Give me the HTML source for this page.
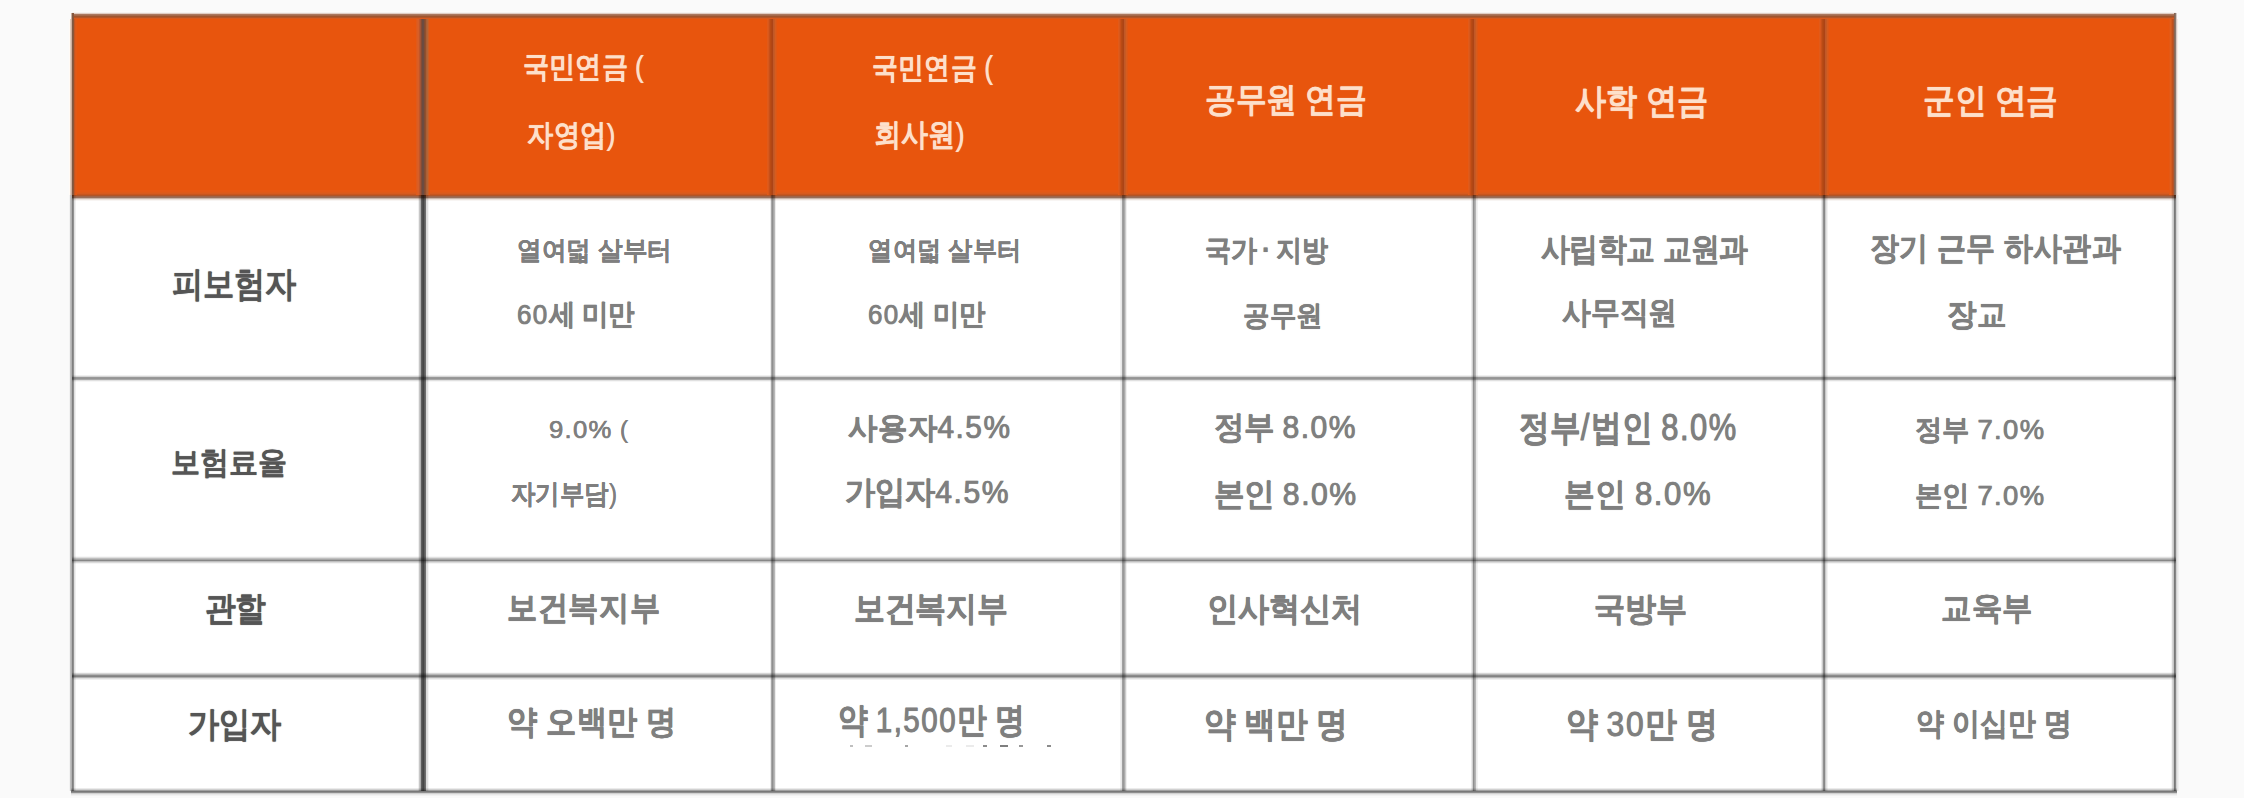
<!DOCTYPE html>
<html><head><meta charset="utf-8"><style>
html,body{margin:0;padding:0}
body{width:2244px;height:798px;background:#fafafa;position:relative;overflow:hidden;font-family:"Liberation Sans",sans-serif}
i,b{position:absolute;display:block}
.t{font-size:40px;line-height:1;white-space:nowrap;transform-origin:0 0;text-shadow:0 0 1px currentColor}
.p{font-weight:normal;-webkit-text-stroke:0.3px currentColor!important}
.d{font-weight:normal;letter-spacing:0.05em;-webkit-text-stroke:0.9px currentColor!important}
</style></head><body>
<i style="left:72px;top:196px;width:2104px;height:596px;background:#fff"></i>
<i style="left:72px;top:17px;width:2104px;height:179px;background:rgb(232,85,13)"></i>
<i style="left:72px;top:11px;width:2104px;height:1px;background:rgb(253,251,249)"></i>
<i style="left:72px;top:12px;width:2104px;height:1px;background:rgb(245,242,240)"></i>
<i style="left:72px;top:13px;width:2104px;height:1px;background:rgb(225,205,195)"></i>
<i style="left:72px;top:14px;width:2104px;height:1px;background:rgb(170,120,95)"></i>
<i style="left:72px;top:15px;width:2104px;height:1px;background:rgb(165,105,75)"></i>
<i style="left:72px;top:16px;width:2104px;height:1px;background:rgb(160,85,45)"></i>
<i style="left:72px;top:17px;width:2104px;height:1px;background:rgb(180,85,40)"></i>
<i style="left:72px;top:18px;width:2104px;height:1px;background:rgb(215,90,30)"></i>
<i style="left:72px;top:190px;width:2104px;height:1px;background:rgb(230,88,20)"></i>
<i style="left:72px;top:191px;width:2104px;height:1px;background:rgb(228,88,22)"></i>
<i style="left:72px;top:192px;width:2104px;height:1px;background:rgb(222,90,25)"></i>
<i style="left:72px;top:193px;width:2104px;height:1px;background:rgb(215,90,30)"></i>
<i style="left:72px;top:194px;width:2104px;height:1px;background:rgb(200,85,30)"></i>
<i style="left:72px;top:195px;width:2104px;height:1px;background:rgb(175,85,40)"></i>
<i style="left:72px;top:196px;width:2104px;height:1px;background:rgb(160,100,75)"></i>
<i style="left:72px;top:197px;width:2104px;height:1px;background:rgb(150,110,90)"></i>
<i style="left:72px;top:198px;width:2104px;height:1px;background:rgb(200,180,170)"></i>
<i style="left:72px;top:199px;width:2104px;height:1px;background:rgb(235,225,220)"></i>
<i style="left:72px;top:200px;width:2104px;height:1px;background:rgb(248,245,243)"></i>
<i style="left:69px;top:19px;width:1px;height:176px;background:rgb(255,250,245)"></i>
<i style="left:70px;top:19px;width:1px;height:176px;background:rgb(225,205,190)"></i>
<i style="left:71px;top:19px;width:1px;height:176px;background:rgb(205,175,160)"></i>
<i style="left:72px;top:19px;width:1px;height:176px;background:rgb(125,90,70)"></i>
<i style="left:73px;top:19px;width:1px;height:176px;background:rgb(140,85,55)"></i>
<i style="left:74px;top:19px;width:1px;height:176px;background:rgb(195,85,35)"></i>
<i style="left:75px;top:19px;width:1px;height:176px;background:rgb(220,88,25)"></i>
<i style="left:76px;top:19px;width:1px;height:176px;background:rgb(228,88,20)"></i>
<i style="left:2169px;top:19px;width:1px;height:176px;background:rgb(228,88,20)"></i>
<i style="left:2170px;top:19px;width:1px;height:176px;background:rgb(222,95,30)"></i>
<i style="left:2171px;top:19px;width:1px;height:176px;background:rgb(210,90,30)"></i>
<i style="left:2172px;top:19px;width:1px;height:176px;background:rgb(195,80,25)"></i>
<i style="left:2173px;top:19px;width:1px;height:176px;background:rgb(175,85,45)"></i>
<i style="left:2174px;top:19px;width:1px;height:176px;background:rgb(140,100,80)"></i>
<i style="left:2175px;top:19px;width:1px;height:176px;background:rgb(135,120,110)"></i>
<i style="left:2176px;top:19px;width:1px;height:176px;background:rgb(215,200,195)"></i>
<i style="left:2177px;top:19px;width:1px;height:176px;background:rgb(245,235,230)"></i>
<i style="left:2178px;top:19px;width:1px;height:176px;background:rgb(252,250,245)"></i>
<i style="left:416px;top:19px;width:1px;height:176px;background:rgb(225,90,25)"></i>
<i style="left:417px;top:19px;width:1px;height:176px;background:rgb(220,92,35)"></i>
<i style="left:418px;top:19px;width:1px;height:176px;background:rgb(212,95,40)"></i>
<i style="left:419px;top:19px;width:1px;height:176px;background:rgb(195,85,40)"></i>
<i style="left:420px;top:19px;width:1px;height:176px;background:rgb(160,85,55)"></i>
<i style="left:421px;top:19px;width:1px;height:176px;background:rgb(130,75,55)"></i>
<i style="left:422px;top:19px;width:1px;height:176px;background:rgb(105,75,65)"></i>
<i style="left:423px;top:19px;width:1px;height:176px;background:rgb(108,75,65)"></i>
<i style="left:424px;top:19px;width:1px;height:176px;background:rgb(130,75,50)"></i>
<i style="left:425px;top:19px;width:1px;height:176px;background:rgb(145,80,45)"></i>
<i style="left:426px;top:19px;width:1px;height:176px;background:rgb(170,95,55)"></i>
<i style="left:427px;top:19px;width:1px;height:176px;background:rgb(180,100,55)"></i>
<i style="left:428px;top:19px;width:1px;height:176px;background:rgb(205,95,35)"></i>
<i style="left:429px;top:19px;width:1px;height:176px;background:rgb(225,85,20)"></i>
<i style="left:767px;top:19px;width:1px;height:176px;background:rgb(225,90,25)"></i>
<i style="left:768px;top:19px;width:1px;height:176px;background:rgb(215,88,28)"></i>
<i style="left:769px;top:19px;width:1px;height:176px;background:rgb(200,80,25)"></i>
<i style="left:770px;top:19px;width:1px;height:176px;background:rgb(185,75,20)"></i>
<i style="left:771px;top:19px;width:1px;height:176px;background:rgb(178,70,20)"></i>
<i style="left:772px;top:19px;width:1px;height:176px;background:rgb(172,68,22)"></i>
<i style="left:773px;top:19px;width:1px;height:176px;background:rgb(192,88,40)"></i>
<i style="left:774px;top:19px;width:1px;height:176px;background:rgb(200,90,35)"></i>
<i style="left:775px;top:19px;width:1px;height:176px;background:rgb(215,92,30)"></i>
<i style="left:776px;top:19px;width:1px;height:176px;background:rgb(222,88,22)"></i>
<i style="left:1118px;top:19px;width:1px;height:176px;background:rgb(225,90,25)"></i>
<i style="left:1119px;top:19px;width:1px;height:176px;background:rgb(215,88,28)"></i>
<i style="left:1120px;top:19px;width:1px;height:176px;background:rgb(200,80,25)"></i>
<i style="left:1121px;top:19px;width:1px;height:176px;background:rgb(185,75,20)"></i>
<i style="left:1122px;top:19px;width:1px;height:176px;background:rgb(178,70,20)"></i>
<i style="left:1123px;top:19px;width:1px;height:176px;background:rgb(172,68,22)"></i>
<i style="left:1124px;top:19px;width:1px;height:176px;background:rgb(192,88,40)"></i>
<i style="left:1125px;top:19px;width:1px;height:176px;background:rgb(200,90,35)"></i>
<i style="left:1126px;top:19px;width:1px;height:176px;background:rgb(215,92,30)"></i>
<i style="left:1127px;top:19px;width:1px;height:176px;background:rgb(222,88,22)"></i>
<i style="left:1468px;top:19px;width:1px;height:176px;background:rgb(225,90,25)"></i>
<i style="left:1469px;top:19px;width:1px;height:176px;background:rgb(215,88,28)"></i>
<i style="left:1470px;top:19px;width:1px;height:176px;background:rgb(200,80,25)"></i>
<i style="left:1471px;top:19px;width:1px;height:176px;background:rgb(185,75,20)"></i>
<i style="left:1472px;top:19px;width:1px;height:176px;background:rgb(178,70,20)"></i>
<i style="left:1473px;top:19px;width:1px;height:176px;background:rgb(172,68,22)"></i>
<i style="left:1474px;top:19px;width:1px;height:176px;background:rgb(192,88,40)"></i>
<i style="left:1475px;top:19px;width:1px;height:176px;background:rgb(200,90,35)"></i>
<i style="left:1476px;top:19px;width:1px;height:176px;background:rgb(215,92,30)"></i>
<i style="left:1477px;top:19px;width:1px;height:176px;background:rgb(222,88,22)"></i>
<i style="left:1819px;top:19px;width:1px;height:176px;background:rgb(225,90,25)"></i>
<i style="left:1820px;top:19px;width:1px;height:176px;background:rgb(215,88,28)"></i>
<i style="left:1821px;top:19px;width:1px;height:176px;background:rgb(200,80,25)"></i>
<i style="left:1822px;top:19px;width:1px;height:176px;background:rgb(185,75,20)"></i>
<i style="left:1823px;top:19px;width:1px;height:176px;background:rgb(178,70,20)"></i>
<i style="left:1824px;top:19px;width:1px;height:176px;background:rgb(172,68,22)"></i>
<i style="left:1825px;top:19px;width:1px;height:176px;background:rgb(192,88,40)"></i>
<i style="left:1826px;top:19px;width:1px;height:176px;background:rgb(200,90,35)"></i>
<i style="left:1827px;top:19px;width:1px;height:176px;background:rgb(215,92,30)"></i>
<i style="left:1828px;top:19px;width:1px;height:176px;background:rgb(222,88,22)"></i>
<i style="left:71px;top:13px;width:1px;height:6px;background:rgb(205,175,160)"></i>
<i style="left:72px;top:13px;width:1px;height:6px;background:rgb(125,90,70)"></i>
<i style="left:73px;top:13px;width:1px;height:6px;background:rgb(140,85,55)"></i>
<i style="left:2174px;top:13px;width:1px;height:6px;background:rgb(140,100,80)"></i>
<i style="left:2175px;top:13px;width:1px;height:6px;background:rgb(135,120,110)"></i>
<i style="left:2176px;top:13px;width:1px;height:6px;background:rgb(215,200,195)"></i>
<i style="left:69px;top:195px;width:1px;height:596px;background:rgba(0,0,0,0.03)"></i>
<i style="left:70px;top:195px;width:1px;height:596px;background:rgba(0,0,0,0.23)"></i>
<i style="left:71px;top:195px;width:1px;height:596px;background:rgba(0,0,0,0.29)"></i>
<i style="left:72px;top:195px;width:1px;height:596px;background:rgba(0,0,0,0.5)"></i>
<i style="left:73px;top:195px;width:1px;height:596px;background:rgba(0,0,0,0.43)"></i>
<i style="left:74px;top:195px;width:1px;height:596px;background:rgba(0,0,0,0.12)"></i>
<i style="left:75px;top:195px;width:1px;height:596px;background:rgba(0,0,0,0.06)"></i>
<i style="left:418px;top:195px;width:1px;height:596px;background:rgba(0,0,0,0.06)"></i>
<i style="left:419px;top:195px;width:1px;height:596px;background:rgba(0,0,0,0.22)"></i>
<i style="left:420px;top:195px;width:1px;height:596px;background:rgba(0,0,0,0.31)"></i>
<i style="left:421px;top:195px;width:1px;height:596px;background:rgba(0,0,0,0.63)"></i>
<i style="left:422px;top:195px;width:1px;height:596px;background:rgba(0,0,0,0.69)"></i>
<i style="left:423px;top:195px;width:1px;height:596px;background:rgba(0,0,0,0.72)"></i>
<i style="left:424px;top:195px;width:1px;height:596px;background:rgba(0,0,0,0.63)"></i>
<i style="left:425px;top:195px;width:1px;height:596px;background:rgba(0,0,0,0.57)"></i>
<i style="left:426px;top:195px;width:1px;height:596px;background:rgba(0,0,0,0.14)"></i>
<i style="left:427px;top:195px;width:1px;height:596px;background:rgba(0,0,0,0.12)"></i>
<i style="left:428px;top:195px;width:1px;height:596px;background:rgba(0,0,0,0.04)"></i>
<i style="left:770px;top:195px;width:1px;height:596px;background:rgba(0,0,0,0.08)"></i>
<i style="left:771px;top:195px;width:1px;height:596px;background:rgba(0,0,0,0.34)"></i>
<i style="left:772px;top:195px;width:1px;height:596px;background:rgba(0,0,0,0.44)"></i>
<i style="left:773px;top:195px;width:1px;height:596px;background:rgba(0,0,0,0.35)"></i>
<i style="left:774px;top:195px;width:1px;height:596px;background:rgba(0,0,0,0.28)"></i>
<i style="left:775px;top:195px;width:1px;height:596px;background:rgba(0,0,0,0.07)"></i>
<i style="left:1120px;top:195px;width:1px;height:596px;background:rgba(0,0,0,0.06)"></i>
<i style="left:1121px;top:195px;width:1px;height:596px;background:rgba(0,0,0,0.09)"></i>
<i style="left:1122px;top:195px;width:1px;height:596px;background:rgba(0,0,0,0.37)"></i>
<i style="left:1123px;top:195px;width:1px;height:596px;background:rgba(0,0,0,0.4)"></i>
<i style="left:1124px;top:195px;width:1px;height:596px;background:rgba(0,0,0,0.33)"></i>
<i style="left:1125px;top:195px;width:1px;height:596px;background:rgba(0,0,0,0.2)"></i>
<i style="left:1126px;top:195px;width:1px;height:596px;background:rgba(0,0,0,0.06)"></i>
<i style="left:1471px;top:195px;width:1px;height:596px;background:rgba(0,0,0,0.08)"></i>
<i style="left:1472px;top:195px;width:1px;height:596px;background:rgba(0,0,0,0.18)"></i>
<i style="left:1473px;top:195px;width:1px;height:596px;background:rgba(0,0,0,0.44)"></i>
<i style="left:1474px;top:195px;width:1px;height:596px;background:rgba(0,0,0,0.35)"></i>
<i style="left:1475px;top:195px;width:1px;height:596px;background:rgba(0,0,0,0.29)"></i>
<i style="left:1476px;top:195px;width:1px;height:596px;background:rgba(0,0,0,0.08)"></i>
<i style="left:1477px;top:195px;width:1px;height:596px;background:rgba(0,0,0,0.05)"></i>
<i style="left:1821px;top:195px;width:1px;height:596px;background:rgba(0,0,0,0.08)"></i>
<i style="left:1822px;top:195px;width:1px;height:596px;background:rgba(0,0,0,0.2)"></i>
<i style="left:1823px;top:195px;width:1px;height:596px;background:rgba(0,0,0,0.43)"></i>
<i style="left:1824px;top:195px;width:1px;height:596px;background:rgba(0,0,0,0.47)"></i>
<i style="left:1825px;top:195px;width:1px;height:596px;background:rgba(0,0,0,0.22)"></i>
<i style="left:1826px;top:195px;width:1px;height:596px;background:rgba(0,0,0,0.11)"></i>
<i style="left:1827px;top:195px;width:1px;height:596px;background:rgba(0,0,0,0.05)"></i>
<i style="left:2171px;top:195px;width:1px;height:596px;background:rgba(0,0,0,0.04)"></i>
<i style="left:2172px;top:195px;width:1px;height:596px;background:rgba(0,0,0,0.16)"></i>
<i style="left:2173px;top:195px;width:1px;height:596px;background:rgba(0,0,0,0.22)"></i>
<i style="left:2174px;top:195px;width:1px;height:596px;background:rgba(0,0,0,0.53)"></i>
<i style="left:2175px;top:195px;width:1px;height:596px;background:rgba(0,0,0,0.47)"></i>
<i style="left:2176px;top:195px;width:1px;height:596px;background:rgba(0,0,0,0.16)"></i>
<i style="left:2177px;top:195px;width:1px;height:596px;background:rgba(0,0,0,0.08)"></i>
<i style="left:2178px;top:195px;width:1px;height:596px;background:rgba(0,0,0,0.04)"></i>
<i style="left:72px;top:375px;width:2104px;height:1px;background:rgba(0,0,0,0.06)"></i>
<i style="left:72px;top:376px;width:2104px;height:1px;background:rgba(0,0,0,0.16)"></i>
<i style="left:72px;top:377px;width:2104px;height:1px;background:rgba(0,0,0,0.4)"></i>
<i style="left:72px;top:378px;width:2104px;height:1px;background:rgba(0,0,0,0.42)"></i>
<i style="left:72px;top:379px;width:2104px;height:1px;background:rgba(0,0,0,0.34)"></i>
<i style="left:72px;top:380px;width:2104px;height:1px;background:rgba(0,0,0,0.12)"></i>
<i style="left:72px;top:381px;width:2104px;height:1px;background:rgba(0,0,0,0.035)"></i>
<i style="left:72px;top:556px;width:2104px;height:1px;background:rgba(0,0,0,0.03)"></i>
<i style="left:72px;top:557px;width:2104px;height:1px;background:rgba(0,0,0,0.12)"></i>
<i style="left:72px;top:558px;width:2104px;height:1px;background:rgba(0,0,0,0.25)"></i>
<i style="left:72px;top:559px;width:2104px;height:1px;background:rgba(0,0,0,0.35)"></i>
<i style="left:72px;top:560px;width:2104px;height:1px;background:rgba(0,0,0,0.47)"></i>
<i style="left:72px;top:561px;width:2104px;height:1px;background:rgba(0,0,0,0.25)"></i>
<i style="left:72px;top:562px;width:2104px;height:1px;background:rgba(0,0,0,0.14)"></i>
<i style="left:72px;top:563px;width:2104px;height:1px;background:rgba(0,0,0,0.04)"></i>
<i style="left:72px;top:672px;width:2104px;height:1px;background:rgba(0,0,0,0.03)"></i>
<i style="left:72px;top:673px;width:2104px;height:1px;background:rgba(0,0,0,0.16)"></i>
<i style="left:72px;top:674px;width:2104px;height:1px;background:rgba(0,0,0,0.29)"></i>
<i style="left:72px;top:675px;width:2104px;height:1px;background:rgba(0,0,0,0.45)"></i>
<i style="left:72px;top:676px;width:2104px;height:1px;background:rgba(0,0,0,0.49)"></i>
<i style="left:72px;top:677px;width:2104px;height:1px;background:rgba(0,0,0,0.31)"></i>
<i style="left:72px;top:678px;width:2104px;height:1px;background:rgba(0,0,0,0.13)"></i>
<i style="left:72px;top:679px;width:2104px;height:1px;background:rgba(0,0,0,0.06)"></i>
<i style="left:71px;top:788px;width:2106px;height:1px;background:rgba(0,0,0,0.08)"></i>
<i style="left:71px;top:789px;width:2106px;height:1px;background:rgba(0,0,0,0.18)"></i>
<i style="left:71px;top:790px;width:2106px;height:1px;background:rgba(0,0,0,0.37)"></i>
<i style="left:71px;top:791px;width:2106px;height:1px;background:rgba(0,0,0,0.53)"></i>
<i style="left:71px;top:792px;width:2106px;height:1px;background:rgba(0,0,0,0.43)"></i>
<i style="left:71px;top:793px;width:2106px;height:1px;background:rgba(0,0,0,0.16)"></i>
<i style="left:71px;top:794px;width:2106px;height:1px;background:rgba(0,0,0,0.07)"></i>
<i style="left:71px;top:795px;width:2106px;height:1px;background:rgba(0,0,0,0.03)"></i>
<i style="left:850px;top:745px;width:3px;height:2px;background:rgba(0,0,0,0.25)"></i>
<i style="left:865px;top:745px;width:7px;height:2px;background:rgba(0,0,0,0.2)"></i>
<i style="left:905px;top:745px;width:3px;height:2px;background:rgba(0,0,0,0.35)"></i>
<i style="left:946px;top:745px;width:6px;height:2px;background:rgba(0,0,0,0.08)"></i>
<i style="left:966px;top:745px;width:8px;height:2px;background:rgba(0,0,0,0.08)"></i>
<i style="left:983px;top:745px;width:4px;height:2px;background:rgba(0,0,0,0.45)"></i>
<i style="left:1000px;top:745px;width:8px;height:2px;background:rgba(0,0,0,0.5)"></i>
<i style="left:1019px;top:745px;width:4px;height:2px;background:rgba(0,0,0,0.4)"></i>
<i style="left:1047px;top:745px;width:4px;height:2px;background:rgba(0,0,0,0.45)"></i>
<b class="t" style="left:523.19px;top:50.74px;color:#fde0cb;font-weight:bold;-webkit-text-stroke:0.0px currentColor;transform:scale(0.6549,0.7538)">국민연금 <span class=p>(</span></b>
<b class="t" style="left:526.54px;top:118.72px;color:#fde0cb;font-weight:bold;-webkit-text-stroke:0.0px currentColor;transform:scale(0.6631,0.7590)">자영업<span class=p>)</span></b>
<b class="t" style="left:871.79px;top:51.82px;color:#fde0cb;font-weight:bold;-webkit-text-stroke:0.0px currentColor;transform:scale(0.6555,0.7615)">국민연금 <span class=p>(</span></b>
<b class="t" style="left:874.46px;top:118.67px;color:#fde0cb;font-weight:bold;-webkit-text-stroke:0.0px currentColor;transform:scale(0.6789,0.7769)">회사원<span class=p>)</span></b>
<b class="t" style="left:1204.97px;top:82.46px;color:#fde0cb;font-weight:bold;-webkit-text-stroke:0.0px currentColor;transform:scale(0.7657,0.8474)">공무원 연금</b>
<b class="t" style="left:1574.62px;top:83.16px;color:#fde0cb;font-weight:bold;-webkit-text-stroke:0.0px currentColor;transform:scale(0.7810,0.8789)">사학 연금</b>
<b class="t" style="left:1923.42px;top:83.26px;color:#fde0cb;font-weight:bold;-webkit-text-stroke:0.0px currentColor;transform:scale(0.7880,0.8474)">군인 연금</b>
<b class="t" style="left:171.62px;top:265.59px;color:#555555;font-weight:bold;-webkit-text-stroke:0.0px currentColor;transform:scale(0.7755,0.8684)">피보험자</b>
<b class="t" style="left:170.75px;top:446.78px;color:#555555;font-weight:bold;-webkit-text-stroke:0.0px currentColor;transform:scale(0.7250,0.7737)">보험료율</b>
<b class="t" style="left:205.48px;top:592.29px;color:#555555;font-weight:bold;-webkit-text-stroke:0.0px currentColor;transform:scale(0.7590,0.8378)">관할</b>
<b class="t" style="left:188.14px;top:705.88px;color:#555555;font-weight:bold;-webkit-text-stroke:0.0px currentColor;transform:scale(0.7805,0.8737)">가입자</b>
<b class="t" style="left:516.95px;top:236.54px;color:#7f7f7f;font-weight:bold;-webkit-text-stroke:0.15px currentColor;transform:scale(0.6181,0.6526)">열여덟 살부터</b>
<b class="t" style="left:516.65px;top:300.26px;color:#7f7f7f;font-weight:bold;-webkit-text-stroke:0.15px currentColor;transform:scale(0.6508,0.7132)"><span class=d>60</span>세 미만</b>
<b class="t" style="left:868.16px;top:236.53px;color:#7f7f7f;font-weight:bold;-webkit-text-stroke:0.15px currentColor;transform:scale(0.6132,0.6579)">열여덟 살부터</b>
<b class="t" style="left:867.55px;top:300.26px;color:#7f7f7f;font-weight:bold;-webkit-text-stroke:0.15px currentColor;transform:scale(0.6486,0.7132)"><span class=d>60</span>세 미만</b>
<b class="t" style="left:1204.61px;top:235.04px;color:#7f7f7f;font-weight:bold;-webkit-text-stroke:0.15px currentColor;transform:scale(0.6471,0.7211)">국가 · 지방</b>
<b class="t" style="left:1243.47px;top:300.69px;color:#7f7f7f;font-weight:bold;-webkit-text-stroke:0.15px currentColor;transform:scale(0.6632,0.7026)">공무원</b>
<b class="t" style="left:1540.80px;top:232.73px;color:#7f7f7f;font-weight:bold;-webkit-text-stroke:0.15px currentColor;transform:scale(0.7107,0.7895)">사립학교 교원과</b>
<b class="t" style="left:1561.70px;top:296.87px;color:#7f7f7f;font-weight:bold;-webkit-text-stroke:0.15px currentColor;transform:scale(0.7205,0.7763)">사무직원</b>
<b class="t" style="left:1870.03px;top:230.97px;color:#7f7f7f;font-weight:bold;-webkit-text-stroke:0.15px currentColor;transform:scale(0.7332,0.8105)">장기 근무 하사관과</b>
<b class="t" style="left:1947.12px;top:299.07px;color:#7f7f7f;font-weight:bold;-webkit-text-stroke:0.15px currentColor;transform:scale(0.7395,0.7763)">장교</b>
<b class="t" style="left:548.66px;top:417.48px;color:#7f7f7f;font-weight:bold;-webkit-text-stroke:0.15px currentColor;transform:scale(0.6418,0.6053)"><span class=d>9.0%</span> <span class=p>(</span></b>
<b class="t" style="left:511.19px;top:479.68px;color:#7f7f7f;font-weight:bold;-webkit-text-stroke:0.15px currentColor;transform:scale(0.6118,0.6744)">자기부담<span class=p>)</span></b>
<b class="t" style="left:848.30px;top:411.72px;color:#7f7f7f;font-weight:bold;-webkit-text-stroke:0.15px currentColor;transform:scale(0.7458,0.7605)">사용자<span class=d>4.5%</span></b>
<b class="t" style="left:844.75px;top:475.61px;color:#7f7f7f;font-weight:bold;-webkit-text-stroke:0.15px currentColor;transform:scale(0.7530,0.7974)">가입자<span class=d>4.5%</span></b>
<b class="t" style="left:1214.30px;top:411.23px;color:#7f7f7f;font-weight:bold;-webkit-text-stroke:0.15px currentColor;transform:scale(0.7516,0.7895)">정부 <span class=d>8.0%</span></b>
<b class="t" style="left:1213.59px;top:478.22px;color:#7f7f7f;font-weight:bold;-webkit-text-stroke:0.15px currentColor;transform:scale(0.7554,0.7919)">본인 <span class=d>8.0%</span></b>
<b class="t" style="left:1519.26px;top:408.77px;color:#7f7f7f;font-weight:bold;-webkit-text-stroke:0.15px currentColor;transform:scale(0.7720,0.9105)">정부<span class=d>/</span>법인 <span class=d>8.0%</span></b>
<b class="t" style="left:1563.94px;top:477.47px;color:#7f7f7f;font-weight:bold;-webkit-text-stroke:0.15px currentColor;transform:scale(0.7785,0.8108)">본인 <span class=d>8.0%</span></b>
<b class="t" style="left:1915.23px;top:415.09px;color:#7f7f7f;font-weight:bold;-webkit-text-stroke:0.15px currentColor;transform:scale(0.6855,0.7026)">정부 <span class=d>7.0%</span></b>
<b class="t" style="left:1915.23px;top:480.69px;color:#7f7f7f;font-weight:bold;-webkit-text-stroke:0.15px currentColor;transform:scale(0.6855,0.7027)">본인 <span class=d>7.0%</span></b>
<b class="t" style="left:507.17px;top:591.29px;color:#7f7f7f;font-weight:bold;-webkit-text-stroke:0.15px currentColor;transform:scale(0.7668,0.8368)">보건복지부</b>
<b class="t" style="left:854.07px;top:590.87px;color:#7f7f7f;font-weight:bold;-webkit-text-stroke:0.15px currentColor;transform:scale(0.7673,0.8447)">보건복지부</b>
<b class="t" style="left:1206.69px;top:592.13px;color:#7f7f7f;font-weight:bold;-webkit-text-stroke:0.15px currentColor;transform:scale(0.7770,0.8237)">인사혁신처</b>
<b class="t" style="left:1594.16px;top:591.95px;color:#7f7f7f;font-weight:bold;-webkit-text-stroke:0.15px currentColor;transform:scale(0.7698,0.8158)">국방부</b>
<b class="t" style="left:1941.37px;top:592.28px;color:#7f7f7f;font-weight:bold;-webkit-text-stroke:0.15px currentColor;transform:scale(0.7664,0.8079)">교육부</b>
<b class="t" style="left:507.01px;top:705.40px;color:#7f7f7f;font-weight:bold;-webkit-text-stroke:0.15px currentColor;transform:scale(0.7640,0.8342)">약 오백만 명</b>
<b class="t" style="left:837.58px;top:702.39px;color:#7f7f7f;font-weight:bold;-webkit-text-stroke:0.15px currentColor;transform:scale(0.7385,0.8684)">약 <span class=d>1,500</span>만 명</b>
<b class="t" style="left:1204.34px;top:705.99px;color:#7f7f7f;font-weight:bold;-webkit-text-stroke:0.15px currentColor;transform:scale(0.7862,0.8684)">약 백만 명</b>
<b class="t" style="left:1565.52px;top:706.09px;color:#7f7f7f;font-weight:bold;-webkit-text-stroke:0.15px currentColor;transform:scale(0.7945,0.8711)">약 <span class=d>30</span>만 명</b>
<b class="t" style="left:1916.40px;top:707.96px;color:#7f7f7f;font-weight:bold;-webkit-text-stroke:0.15px currentColor;transform:scale(0.7014,0.7789)">약 이십만 명</b>
</body></html>
